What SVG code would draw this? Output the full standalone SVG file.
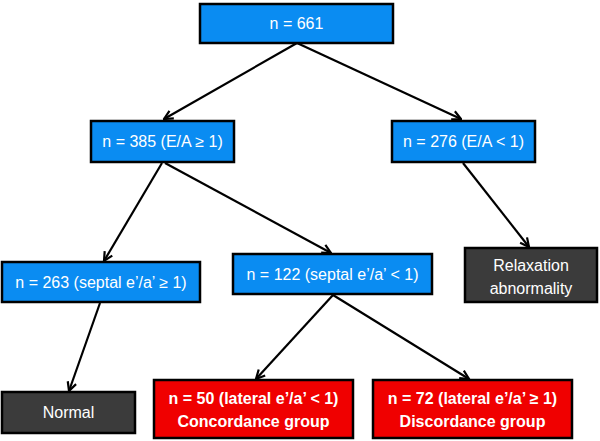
<svg xmlns="http://www.w3.org/2000/svg" width="600" height="441" viewBox="0 0 600 441">
<style>
.box{stroke:#000;stroke-width:2.5}
.blue{fill:#0a8cf2}
.gray{fill:#3b3b3b}
.red{fill:#f00000}
text{font-family:"Liberation Sans",Arial,sans-serif;font-size:16px;fill:#fff;text-anchor:middle}
.b{font-weight:bold}
.conn line{stroke:#000;stroke-width:2.2;marker-end:url(#arr)}
</style>
<defs>
<marker id="arr" viewBox="0 0 10 10" refX="9" refY="5" markerWidth="5" markerHeight="5" orient="auto" markerUnits="strokeWidth">
<path d="M1,1 L9,5 L1,9" fill="none" stroke="#000" stroke-width="2"/>
</marker>
</defs>
<rect width="600" height="441" fill="#fff"/>
<g class="conn">
<line x1="297" y1="43" x2="164" y2="119"/>
<line x1="297" y1="43" x2="461" y2="119"/>
<line x1="162" y1="163" x2="104" y2="261"/>
<line x1="165" y1="163" x2="331" y2="253"/>
<line x1="463" y1="163" x2="529" y2="247"/>
<line x1="100" y1="303" x2="69" y2="391"/>
<line x1="333" y1="295" x2="256" y2="379"/>
<line x1="333" y1="295" x2="469" y2="379"/>
</g>
<g id="n661"><rect class="box blue" x="200" y="4" width="193" height="39"/><text x="296.5" y="29">n = 661</text></g>
<g id="n385"><rect class="box blue" x="91" y="121" width="143" height="41"/><text x="162.5" y="147">n = 385 (E/A ≥ 1)</text></g>
<g id="n276"><rect class="box blue" x="392" y="121" width="143" height="41"/><text x="463.5" y="147">n = 276 (E/A &lt; 1)</text></g>
<g id="n263"><rect class="box blue" x="2" y="262" width="198" height="40"/><text x="101" y="288">n = 263 (septal e’/a’ ≥ 1)</text></g>
<g id="n122"><rect class="box blue" x="233" y="254" width="199" height="40"/><text x="332.5" y="280">n = 122 (septal e’/a’ &lt; 1)</text></g>
<g id="relax"><rect class="box gray" x="465" y="248" width="132" height="54"/><text x="531" y="271">Relaxation</text><text x="531" y="294">abnormality</text></g>
<g id="normal"><rect class="box gray" x="2" y="392" width="133" height="41"/><text x="68.5" y="418">Normal</text></g>
<g id="conc"><rect class="box red" x="154" y="380" width="199" height="58"/><text class="b" x="253.5" y="404">n = 50 (lateral e’/a’ &lt; 1)</text><text class="b" x="253.5" y="427">Concordance group</text></g>
<g id="disc"><rect class="box red" x="373" y="380" width="199" height="58"/><text class="b" x="472.5" y="404">n = 72 (lateral e’/a’ ≥ 1)</text><text class="b" x="472.5" y="427">Discordance group</text></g>
</svg>
